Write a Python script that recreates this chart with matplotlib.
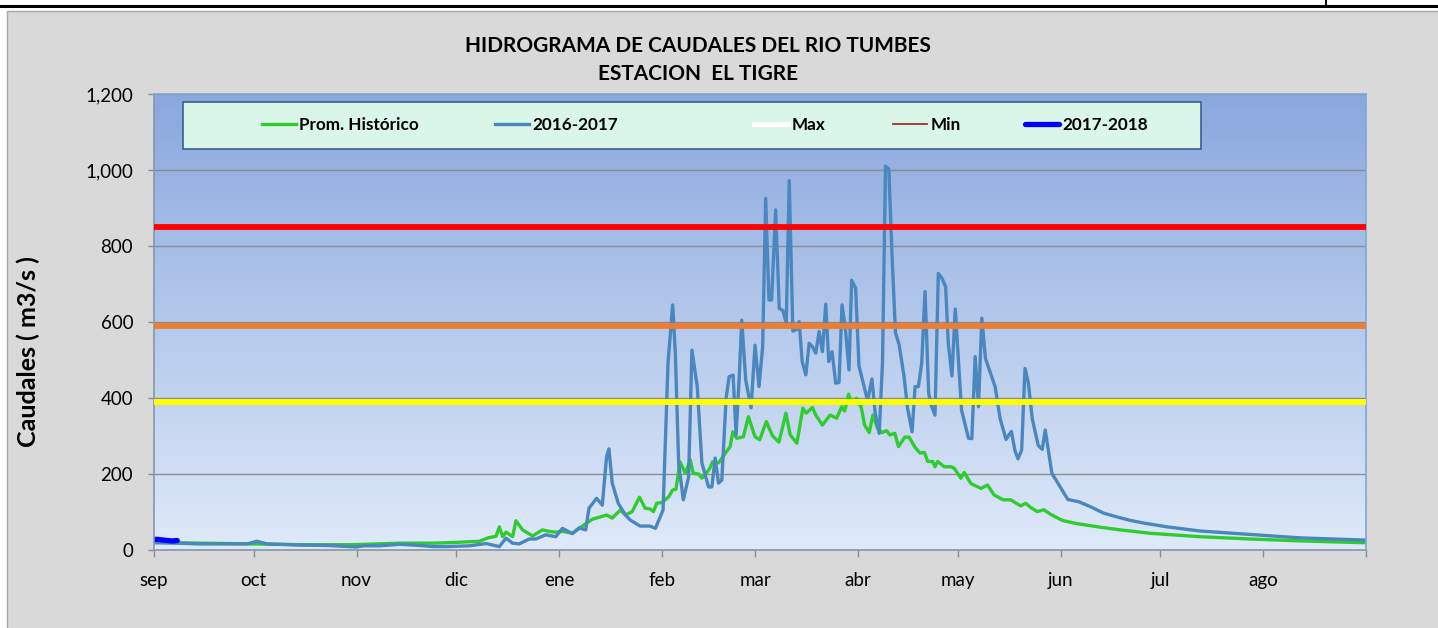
import numpy as np
import matplotlib
matplotlib.use("Agg")
import matplotlib.pyplot as plt
from matplotlib.patches import Rectangle
from matplotlib.lines import Line2D
from matplotlib.legend import Legend
from matplotlib.ticker import FixedLocator, StrMethodFormatter

# ---------------- data ----------------
month_labels = ["sep", "oct", "nov", "dic", "ene", "feb", "mar", "abr", "may", "jun", "jul", "ago"]
month_start_days = [0, 30, 61, 91, 122, 153, 181, 212, 242, 273, 303, 334]
year_days = 365

# Prom. Histórico (day offset from 1 Sep, m3/s)
hist_days = [0, 7, 14, 30, 44, 60, 67, 74, 84, 91, 98, 100.6, 103, 104, 105, 106, 108, 109, 111, 114,
             117, 119, 121, 123, 126, 129, 132, 134, 136.3, 138, 140.4, 142, 144, 146.2, 147.9, 149.4,
             150.4, 151.4, 153, 155, 156.2, 157.2, 158.4, 160, 161.5, 162.4, 164, 165, 166.5, 167.4,
             168.2, 170, 172, 173.5, 174.3, 175.5, 177.5, 179, 181, 182.4, 184.4, 186.3, 188.2, 190.3,
             191.6, 193.6, 195.4, 196.4, 198.3, 199.3, 201.3, 203.6, 205.6, 207.1, 208, 209.2, 210,
             211.6, 213, 214, 215.4, 216.5, 217.8, 219.3, 220.6, 221.6, 223.1, 224.2, 226.1, 227.4,
             229.2, 230.7, 232, 233, 234.5, 235.2, 236, 238, 240, 241, 243, 244, 246, 249, 251, 253,
             255.7, 258, 261, 262.5, 264, 266, 268, 270, 273.5, 277, 279, 285, 291, 300, 315, 330, 345, 365]
hist_vals = [21, 19, 18, 16, 14, 14, 16, 18, 18, 20, 23, 32, 36, 61, 35, 47, 35, 77, 53, 37,
             53, 49, 47, 49, 44, 63, 81, 86, 92, 84, 105, 92, 101, 139, 110, 108,
             101, 123, 125, 140, 158, 160, 232, 202, 237, 202, 200, 189, 204, 215,
             232, 229, 254, 272, 311, 294, 298, 351, 298, 290, 338, 300, 284, 360,
             303, 281, 373, 360, 375, 355, 329, 355, 347, 377, 366, 410, 386,
             399, 375, 329, 309, 355, 322, 309, 314, 303, 307, 272, 297, 297,
             270, 255, 257, 233, 233, 219, 233, 219, 219, 215, 189, 204, 175, 162, 171, 145,
             132, 132, 116, 123, 112, 101, 106, 94, 78, 71, 68, 60, 53, 44, 35, 29, 24, 19]

# 2016-2017
y1617_days = [0, 7, 14, 21, 28, 31, 34, 44, 52, 61, 63, 68, 74, 80, 84, 88, 95, 100, 104, 106, 108,
              110, 113, 115, 118, 121, 123, 126, 128, 130, 131, 133.3, 135, 136.3, 137, 138, 139.8,
              142, 143.4, 146.4, 149.4, 151, 153.3, 154.8, 156.2, 157, 158, 159.4, 161, 162, 163.6,
              165, 167, 168, 169, 170, 171, 172.3, 173.2, 174.4, 175.3, 176.2, 177, 178.2, 179.8,
              181, 182.2, 183.3, 184.2, 185.2, 186, 187.2, 188.3, 189.4, 190.4, 191.3, 192.4, 193.5,
              194.3, 195.2, 196.3, 197.3, 198.3, 199.3, 200.3, 201.3, 202.3, 203.2, 204.2, 205.3,
              206.3, 207.2, 208.2, 209.3, 210.1, 211.3, 212.3, 213.6, 214.9, 216.2, 217.2, 218.4,
              219.4, 220.3, 221.3, 222.2, 223.3, 224.4, 225.9, 226.9, 228.3, 229.2, 230.2, 231.2,
              232.2, 233.3, 234.2, 235.2, 236.2, 237.3, 238.4, 239.2, 240.3, 241.3, 243.2, 245.3,
              246.3, 247.3, 248.3, 249.3, 250.4, 253.3, 254.8, 256.6, 258.2, 259.3, 260.2, 261.3,
              262.3, 263.3, 264.5, 266.3, 267.5, 268.4, 270.4, 275.2, 278.5, 282, 286, 290, 294,
              298, 305, 315, 325, 335, 345, 355, 365]
y1617_vals = [19, 18, 16, 16, 16, 23, 16, 13, 12, 8, 11, 11, 15, 12, 9, 9, 11, 17, 9, 31, 18,
              16, 29, 29, 40, 35, 57, 43, 58, 53, 110, 136, 118, 246, 266, 176, 123,
              92, 79, 63, 63, 57, 105, 492, 645, 518, 229, 132, 192, 526, 430,
              229, 166, 166, 242, 176, 184, 400, 456, 460, 303, 447, 605, 447, 374,
              539, 430, 535, 925, 658, 658, 895, 636, 630, 597, 972, 576, 580,
              601, 496, 461, 544, 535, 518, 575, 522, 647, 496, 522, 439,
              441, 645, 584, 474, 710, 689, 485, 439, 393, 450, 360, 307,
              495, 1010, 1002, 789, 572, 540, 456, 375, 311, 430, 430, 491,
              680, 412, 377, 355, 728, 715, 693, 544, 458, 634, 368, 294,
              293, 509, 377, 610, 504, 430, 346, 291, 312, 261, 240, 263,
              478, 441, 345, 275, 265, 316, 202, 133, 127, 114, 97, 87, 78,
              71, 61, 50, 44, 38, 32, 29, 26]

# 2017-2018 (only the first days available)
y1718_days = [0, 1, 2, 3, 4, 5, 6, 7]
y1718_vals = [28, 28, 27, 26, 25, 24, 24, 25]

# alert thresholds (m3/s)
threshold_vals = [850, 590, 390]
threshold_colors = ["#ff0000", "#ed7d31", "#ffff00"]

y_ticks = [0, 200, 400, 600, 800, 1000, 1200]

series_labels = ["Prom. Histórico", "2016-2017", "Max", "Min", "2017-2018"]

# ---------------- figure ----------------
W, H = 1438, 628
fig = plt.figure(figsize=(W / 100, H / 100), dpi=100, facecolor="white")
plt.rcParams["font.family"] = ["Lato", "DejaVu Sans"]

# chart area (grey)
fig.add_artist(Rectangle((7 / W, -0.05), 1.0, 1.05 - 11 / H, transform=fig.transFigure,
                         facecolor="#d9d9d9", edgecolor="#a6a6a6", lw=1.0, zorder=0))
# document lines on top
fig.add_artist(Line2D([0, 1], [1 - 5.5 / H] * 2, transform=fig.transFigure, color="black", lw=2.2))
fig.add_artist(Line2D([1326 / W] * 2, [1 - 6 / H, 1], transform=fig.transFigure, color="black", lw=1.4))

ax = fig.add_axes([154 / W, 78 / H, 1212 / W, 456 / H])

# gradient plot background
top = np.array([0x8a, 0xa7, 0xde]) / 255
bot = np.array([0xdf, 0xea, 0xf9]) / 255
t = np.linspace(0, 1, 256)[:, None]
grad = top[None, :] * (1 - t) + bot[None, :] * t
ax.imshow(grad[:, None, :], extent=[0, year_days, 0, 1200], aspect="auto", zorder=0,
          interpolation="bilinear")

ax.set_xlim(0, year_days)
ax.set_ylim(0, 1200)

ax.set_axisbelow(True)
ax.yaxis.grid(True, color="#8c8c8c", lw=1.0)

# series
ax.plot(hist_days, hist_vals, color="#2ecc2e", lw=2.4, zorder=2, solid_joinstyle="round")
ax.plot(y1617_days, y1617_vals, color="#4a87be", lw=2.4, zorder=2.1, solid_joinstyle="round")
ax.plot(y1718_days, y1718_vals, color="#0000ff", lw=3.8, zorder=2.2, solid_capstyle="round")

for v, c in zip(threshold_vals, threshold_colors):
    ax.axhline(v, color=c, lw=4.2, zorder=3)

# ticks
ax.xaxis.set_major_locator(FixedLocator(month_start_days + [year_days]))
ax.set_xticklabels(month_labels + [""])
ax.yaxis.set_major_locator(FixedLocator(y_ticks))
ax.yaxis.set_major_formatter(StrMethodFormatter("{x:,.0f}"))
ax.tick_params(axis="x", direction="out", length=5, width=1, color="#8c8c8c",
               labelsize=13.5, pad=11)
ax.tick_params(axis="y", direction="out", length=4, width=1, color="#8c8c8c",
               labelsize=13.5, pad=11)

for s in ["left", "bottom"]:
    ax.spines[s].set_color("#8497b0")
    ax.spines[s].set_linewidth(1.2)
for s in ["top", "right"]:
    ax.spines[s].set_color("#7ea6dc")
    ax.spines[s].set_linewidth(1.2)

ax.set_ylabel("Caudales ( m3/s )", fontsize=18, fontweight="bold")
ax.yaxis.set_label_coords(-0.094, 0.436)

# titles
fig.text(698 / W, 1 - 46 / H, "HIDROGRAMA DE CAUDALES DEL RIO TUMBES", ha="center", va="center",
         fontsize=15, fontweight="bold")
fig.text(698 / W, 1 - 74 / H, "ESTACION  EL TIGRE", ha="center", va="center",
         fontsize=15, fontweight="bold")

# legend box
ax.add_patch(Rectangle((29 / 1212, (550 - 149) / 456), 1018 / 1212, 47 / 456, transform=ax.transAxes,
                       facecolor="#d9f6e8", edgecolor="#3a5f8a", lw=1.2, zorder=4))
handles = [Line2D([], [], color="#2ecc2e", lw=2.4),
           Line2D([], [], color="#4a87be", lw=2.4),
           Line2D([], [], color="white", lw=3.5),
           Line2D([], [], color="#a0302c", lw=1.3),
           Line2D([], [], color="#0000ff", lw=3.8, solid_capstyle="round")]
legend_x_px = [262, 495, 754, 893, 1025]
for h, lab, xp in zip(handles, series_labels, legend_x_px):
    leg = Legend(ax, [h], [lab], loc="center left", bbox_to_anchor=((xp - 154) / 1212, (550 - 125) / 456),
                 bbox_transform=ax.transAxes, frameon=False, borderpad=0, borderaxespad=0,
                 handlelength=2.0, handletextpad=0.18, prop={"weight": "bold", "size": 12.3})
    leg.set_zorder(5)
    ax.add_artist(leg)

fig.savefig("out.png", dpi=100, facecolor=fig.get_facecolor())
